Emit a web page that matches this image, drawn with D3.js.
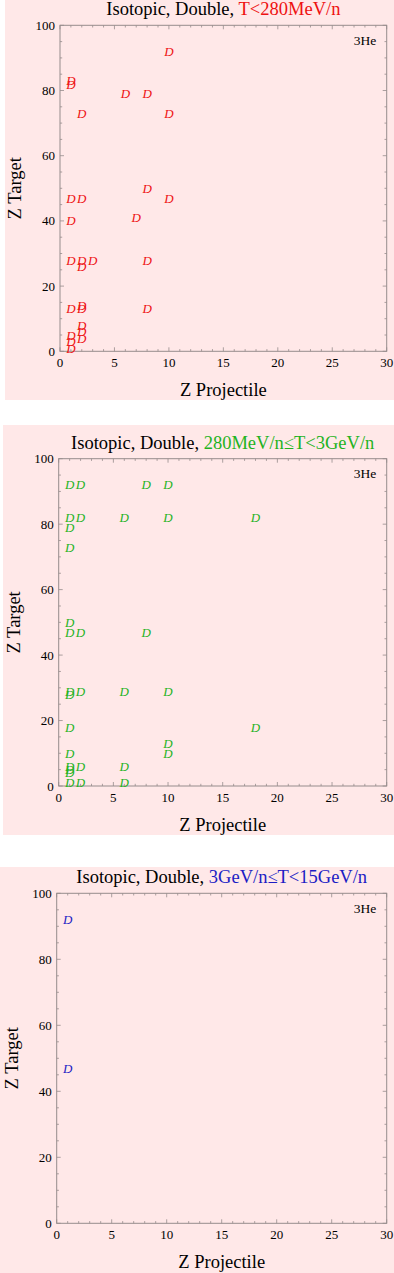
<!DOCTYPE html>
<html>
<head>
<meta charset="utf-8">
<script src="https://cdn.jsdelivr.net/npm/d3@7"></script>
<style>
  body { margin: 0; background: #fff; }
  svg { display: block; }
</style>
</head>
<body>
<script>
// axis ticks
var xTicks = [0, 5, 10, 15, 20, 25, 30];
var yTicks = [0, 20, 40, 60, 80, 100];

// panel 1: T<280MeV/n
var proj1 = [10, 1, 1, 6, 8, 2, 10, 8, 1, 2, 10, 7, 1, 1, 2, 3, 2, 8, 1, 2, 2, 8, 2, 2, 1, 2, 1, 1];
var targ1 = [92, 83, 82, 79, 79, 73, 73, 50, 47, 47, 47, 41, 40, 28, 28, 28, 26, 28, 13, 13, 14, 13, 8, 6, 5, 4, 3, 1];

// panel 2: 280MeV/n<=T<3GeV/n
var proj2 = [1, 2, 8, 10, 1, 2, 6, 10, 18, 1, 1, 1, 1, 2, 8, 1, 2, 1, 6, 10, 1, 18, 10, 10, 1, 1, 2, 6, 1, 1, 1, 2, 6];
var targ2 = [92, 92, 92, 92, 82, 82, 82, 82, 82, 79, 73, 50, 47, 47, 47, 29, 29, 28, 29, 29, 18, 18, 13, 10, 10, 6, 6, 6, 5, 4, 1, 1, 1];

// panel 3: 3GeV/n<=T<15GeV/n
var proj3 = [1, 1];
var targ3 = [92, 47];

var titles = ["T<280MeV/n", "280MeV/n\u2264T<3GeV/n", "3GeV/n\u2264T<15GeV/n"];
var colors = ["#ee1111", "#1fb31f", "#1c1cc4"];

var W = 394, H = 1273;
var svg = d3.select("body").append("svg")
    .attr("width", W)
    .attr("height", H);

var serif = "'Liberation Serif', 'Times New Roman', serif";

// pink backgrounds and plot frames, roughly where they sit in the picture
var panels = [
  {bg: [5, 0, 389, 400],   l: 60,   r: 386.7, t: 25.3,  b: 351.3},
  {bg: [3, 425, 391, 410], l: 58.7, r: 386.7, t: 458.7, b: 786},
  {bg: [0, 867, 394, 406], l: 56.7, r: 386.7, t: 893.3, b: 1223.3}
];
var sets = [[proj1, targ1], [proj2, targ2], [proj3, targ3]];

panels.forEach(function (p, i) {
  svg.append("rect")
    .attr("x", p.bg[0]).attr("y", p.bg[1])
    .attr("width", p.bg[2]).attr("height", p.bg[3])
    .attr("fill", "#ffe8e8");

  var x = d3.scaleLinear().domain([0, 30]).range([p.l, p.r]);
  var y = d3.scaleLinear().domain([0, 100]).range([p.b, p.t]);
  var g = svg.append("g");

  // minor/major ticks on all four sides, pointing inward
  var frameCol = "#968c8c";
  var xs = d3.range(0, 31, 1), ys = d3.range(0, 101, 5);
  xs.forEach(function (v) {
    var len = v % 5 === 0 ? 4 : 2.2;
    g.append("line").attr("x1", x(v)).attr("x2", x(v))
      .attr("y1", p.b).attr("y2", p.b - len).attr("stroke", frameCol).attr("stroke-width", 0.8);
    g.append("line").attr("x1", x(v)).attr("x2", x(v))
      .attr("y1", p.t).attr("y2", p.t + len).attr("stroke", frameCol).attr("stroke-width", 0.8);
  });
  ys.forEach(function (v) {
    var len = v % 20 === 0 ? 4 : 2.2;
    g.append("line").attr("y1", y(v)).attr("y2", y(v))
      .attr("x1", p.l).attr("x2", p.l + len).attr("stroke", frameCol).attr("stroke-width", 0.8);
    g.append("line").attr("y1", y(v)).attr("y2", y(v))
      .attr("x1", p.r).attr("x2", p.r - len).attr("stroke", frameCol).attr("stroke-width", 0.8);
  });
  g.append("rect")
    .attr("x", p.l).attr("y", p.t)
    .attr("width", p.r - p.l).attr("height", p.b - p.t)
    .attr("fill", "none").attr("stroke", frameCol).attr("stroke-width", 1);

  // tick labels
  g.selectAll(".xl").data(xTicks).enter().append("text")
    .attr("x", function (d) { return x(d); })
    .attr("y", p.b + 15.5)
    .attr("text-anchor", "middle")
    .style("font-family", serif).style("font-size", "13px")
    .text(function (d) { return d; });
  g.selectAll(".yl").data(yTicks).enter().append("text")
    .attr("x", p.l - 5)
    .attr("y", function (d) { return y(d); })
    .attr("dy", "0.35em")
    .attr("text-anchor", "end")
    .style("font-family", serif).style("font-size", "13px")
    .text(function (d) { return d; });

  // axis titles
  g.append("text")
    .attr("x", (p.l + p.r) / 2).attr("y", p.b + 45)
    .attr("text-anchor", "middle")
    .style("font-family", serif).style("font-size", "18.5px")
    .text("Z  Projectile");
  g.append("text")
    .attr("transform", "translate(" + (p.l - 39) + "," + ((p.t + p.b) / 2) + ") rotate(-90)")
    .attr("text-anchor", "middle")
    .style("font-family", serif).style("font-size", "18.5px")
    .text("Z  Target");

  // title
  var tt = g.append("text")
    .attr("x", (p.l + p.r) / 2).attr("y", p.t - 10)
    .attr("text-anchor", "middle")
    .style("font-family", serif).style("font-size", "18.5px");
  tt.append("tspan").text("Isotopic, Double, ");
  tt.append("tspan").attr("fill", colors[i]).text(titles[i]);

  g.append("text")
    .attr("x", p.r - 10.5).attr("y", p.t + 19.5)
    .attr("text-anchor", "end")
    .style("font-family", serif).style("font-size", "13.5px")
    .text("3He");

  // the points, drawn as italic D glyphs
  var px = sets[i][0], py = sets[i][1];
  g.selectAll(".pt").data(d3.range(px.length)).enter().append("text")
    .attr("x", function (k) { return x(px[k]); })
    .attr("y", function (k) { return y(py[k]); })
    .attr("dy", "0.35em")
    .attr("text-anchor", "middle")
    .attr("fill", colors[i])
    .style("font-family", serif).style("font-style", "italic").style("font-size", "13px")
    .text("D");
});
</script>
</body>
</html>
